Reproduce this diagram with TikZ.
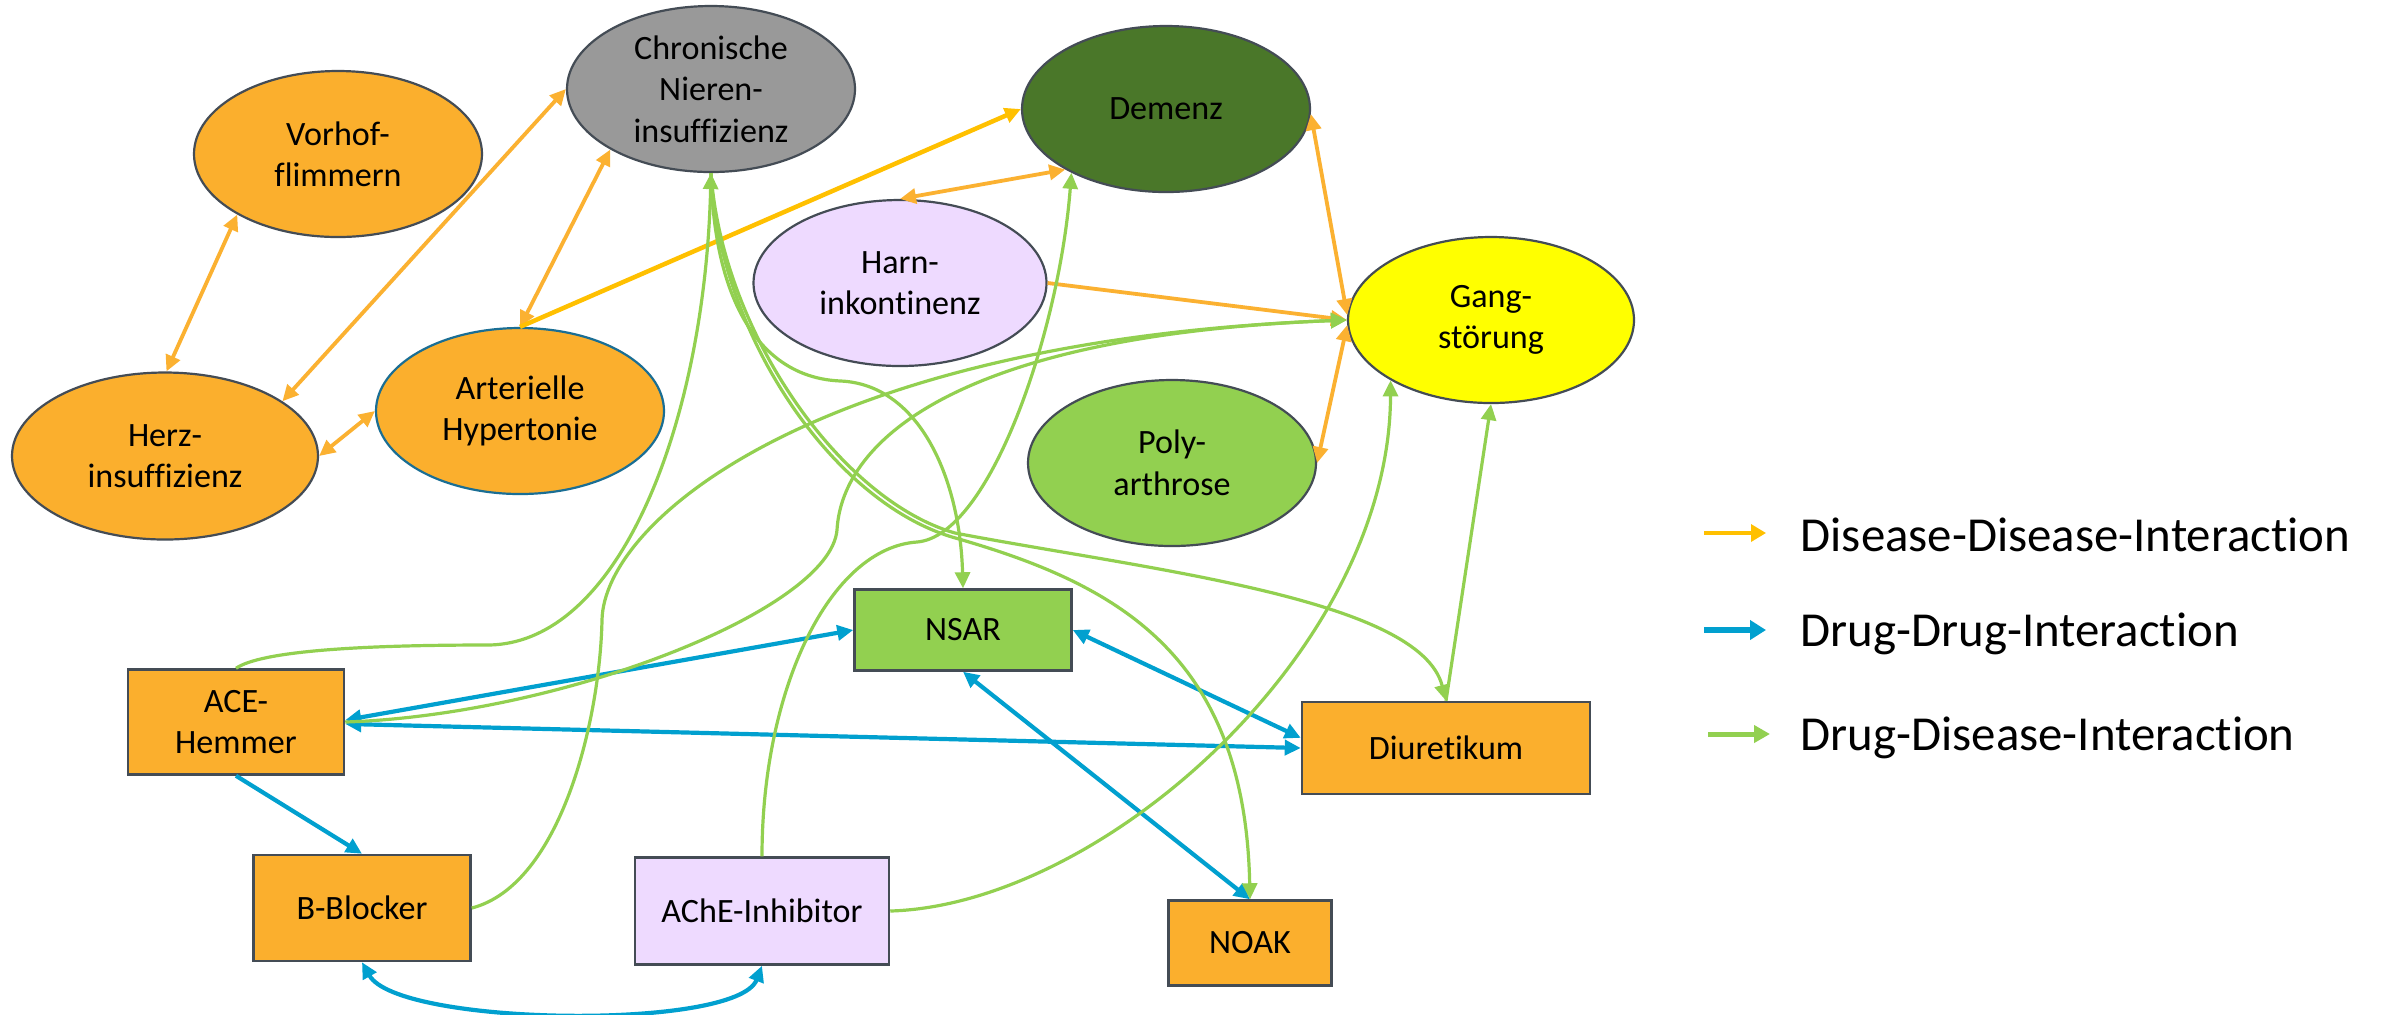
\documentclass[tikz,border=0pt]{standalone}
\usepackage{fontspec}
\setmainfont{Carlito}[Ligatures=NoCommon]
\usetikzlibrary{shapes.geometric,arrows.meta}

\definecolor{orangefill}{HTML}{FBAF2D}
\definecolor{kidneygray}{HTML}{999999}
\definecolor{demenzgreen}{HTML}{4A7729}
\definecolor{lavender}{HTML}{EEDAFF}
\definecolor{gangyellow}{HTML}{FFFF00}
\definecolor{leafgreen}{HTML}{92D050}
\definecolor{edgegray}{HTML}{444C55}
\definecolor{hyperblue}{HTML}{1A6E94}
\definecolor{disorange}{HTML}{FBB131}
\definecolor{disgold}{HTML}{FFC000}
\definecolor{drugblue}{HTML}{01A0CF}
\definecolor{druggreen}{HTML}{92D050}

\newcommand{\nodefont}{\fontsize{9.7}{11.8}\selectfont}
\newcommand{\legendfont}{\fontsize{13.9}{16}\selectfont}

\begin{document}
\begin{tikzpicture}[x=0.1mm,y=-0.1mm,
  >={Triangle[length=1.6mm,width=1.5mm]},
  disease/.style={ellipse, draw=edgegray, line width=0.22mm, inner sep=0pt,
    minimum width=28.8mm, minimum height=16.6mm, align=center, font=\nodefont},
  drug/.style={rectangle, draw=edgegray, line width=0.25mm, inner sep=0pt,
    align=center, font=\nodefont},
  disdis/.style={draw=disorange, line width=0.38mm},
  disgoldline/.style={draw=disgold, line width=0.45mm},
  drugdrug/.style={draw=drugblue, line width=0.42mm},
  drugdis/.style={draw=druggreen, line width=0.32mm},
  legendtext/.style={anchor=base west, inner sep=0pt, font=\legendfont}
]
\fill[white] (0,0) rectangle (2385,1014);
\useasboundingbox (0,0) rectangle (2385,1014);

% diseases
\node[disease, fill=orangefill] (vorhof) at (338,154) {Vorhof-\\flimmern};
\node[disease, fill=orangefill, minimum width=30.6mm, minimum height=16.7mm] (herz) at (165,456) {Herz-\\insuffizienz};
\node[disease, fill=kidneygray] (chron) at (711,89) {Chronische\\Nieren-\\insuffizienz};
\node[disease, fill=orangefill, draw=hyperblue] (hyper) at (520,411) {Arterielle\\Hypertonie};
\node[disease, fill=demenzgreen] (demenz) at (1166,109) {Demenz};
\node[disease, fill=lavender, minimum width=29.3mm] (harn) at (900,283) {Harn-\\inkontinenz};
\node[disease, fill=gangyellow, minimum width=28.6mm] (gang) at (1491,320) {Gang-\\störung};
\node[disease, fill=leafgreen] (poly) at (1172,463) {Poly-\\arthrose};

% drugs
\node[drug, fill=leafgreen, minimum width=21.7mm, minimum height=8.1mm] (nsar) at (963,630) {NSAR};
\node[drug, fill=orangefill, minimum width=21.6mm, minimum height=10.5mm] (ace) at (236,722) {ACE-\\Hemmer};
\node[drug, fill=orangefill, minimum width=21.7mm, minimum height=10.6mm] (bb) at (362,908) {B-Blocker};
\node[drug, fill=lavender, minimum width=25.4mm, minimum height=10.7mm] (ache) at (762,911) {AChE-Inhibitor};
\node[drug, fill=orangefill, minimum width=28.8mm, minimum height=9.2mm] (diur) at (1446,748) {Diuretikum};
\node[drug, fill=orangefill, minimum width=16.3mm, minimum height=8.5mm] (noak) at (1250,943) {NOAK};

% bend points of the curved drug-disease links
\coordinate (acetop) at (487,645);
\coordinate (bbbend) at (602,620);
\coordinate (acebend) at (837,530);
\coordinate (achebend) at (917,542);
\coordinate (nsarbend) at (841,381);
\coordinate (noaksplit) at (952,537);
\coordinate (diursplit) at (955,533);

% disease-disease interactions
\draw[disdis, <->] (vorhof.211) -- (herz.89);
\draw[disdis, <->] (chron.west) -- (herz.25);
\draw[disdis, <->] (herz.east) -- (hyper.west);
\draw[disdis, <->] (hyper.north) -- (chron.211);
\draw[disgoldline, ->] (hyper.north) -- (demenz.west);
\draw[disdis, <->] (harn.north) -- (demenz.211);
\draw[disdis, ->] (harn.east) -- (gang.west);
\draw[disdis, <->] (demenz.-2) -- (gang.178);
\draw[disdis, <->] (poly.east) -- (gang.182);

% drug-drug interactions
\draw[drugdrug, <->] (ace.1) -- (nsar.west);
\draw[drugdrug, <->] (ace.-1) -- (diur.west);
\draw[drugdrug, ->] (ace.south) -- (bb.north);
\draw[drugdrug, <->] (bb.south) .. controls +(36,64) and +(-25,65) .. (ache.south);
\draw[drugdrug, <->] (nsar.east) -- (diur.176);
\draw[drugdrug, <->] (nsar.south) -- (noak.north);

% drug-disease interactions
\draw[drugdis, ->] (ace.north) .. controls +(25,-17) and +(-130,0) .. (acetop)
  .. controls +(133,0) and +(-6,248) .. (chron.south);
\draw[drugdis, ->] (ace.east) .. controls +(216,-7) and +(-7,80) .. (acebend)
  .. controls +(5,-90) and +(-388,15) .. (gang.west);
\draw[drugdis, ->] (bb.east) .. controls +(89,-23) and +(-2,100) .. (bbbend)
  .. controls +(2,-100) and +(-528,20) .. (gang.west);
\draw[drugdis, ->] (ache.north) .. controls +(0,-168) and +(-87,6) .. (achebend)
  .. controls +(73,-6) and +(-12,158) .. (demenz.214);
\draw[drugdis, ->] (ache.east) .. controls +(211,-6) and +(-1,270) .. (gang.211);
\draw[drugdis, ->] (chron.south) .. controls +(3,128) and +(-81,-3) .. (nsarbend)
  .. controls +(79,4) and +(-3,-109) .. (nsar.north);
\draw[drugdis, ->] (chron.south) .. controls +(7,158) and +(-122,-37) .. (noaksplit)
  .. controls +(158,45) and +(-5,-250) .. (noak.north);
\draw[drugdis, ->] (chron.south) .. controls +(11,158) and +(-115,-33) .. (diursplit)
  .. controls +(195,37) and +(-26,-102) .. (diur.north);
\draw[drugdis, ->] (diur.north) -- (gang.south);

% legend
\coordinate (lega) at (1704,533); \coordinate (legb) at (1766,533);
\coordinate (legc) at (1704,630); \coordinate (legd) at (1766,630);
\coordinate (lege) at (1708,734); \coordinate (legf) at (1770,734);
\draw[draw=disgold, line width=0.33mm, -{Triangle[length=1.5mm,width=1.7mm]}] (lega) -- (legb);
\draw[draw=drugblue, line width=0.65mm, -{Triangle[length=1.6mm,width=1.9mm]}] (legc) -- (legd);
\draw[draw=druggreen, line width=0.5mm, -{Triangle[length=1.6mm,width=1.7mm]}] (lege) -- (legf);
\node[legendtext] (legdd) at (1800,551) {Disease-Disease-Interaction};
\node[legendtext] (legdrdr) at (1800,646) {Drug-Drug-Interaction};
\node[legendtext] (legdrdi) at (1800,750) {Drug-Disease-Interaction};
\end{tikzpicture}
\end{document}
